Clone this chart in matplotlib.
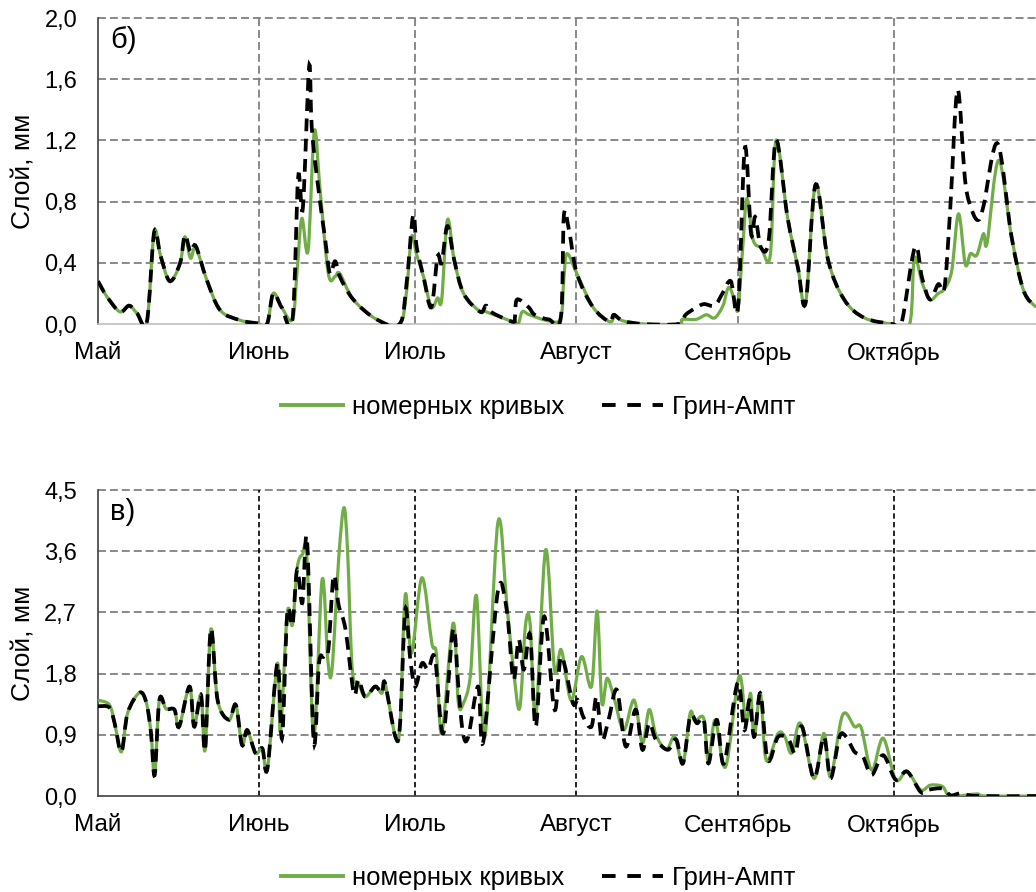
import matplotlib
matplotlib.use("Agg")
import matplotlib.pyplot as plt
from matplotlib.lines import Line2D
from matplotlib.path import Path
from matplotlib.patches import PathPatch

plt.rcParams['font.family'] = ['Liberation Sans', 'DejaVu Sans']

# ---------------- data ----------------
months = ["Май", "Июнь", "Июль", "Август", "Сентябрь", "Октябрь"]
month_start_day = [0, 31, 61, 92, 123, 153]

# panel б) (top)
b_green_day = [0, 1.7, 4.2, 6, 7.5, 9.4, 10.8, 12, 13.8, 15.8, 16.7, 17.8, 18.8, 20.9, 23.5, 27.3,
               30.6, 32.5, 33.7, 35.3, 37.4, 38.3, 39.2, 40.4, 41.6, 42.7, 44.3, 45.6, 46.5, 49.1,
               53.6, 58, 59.3, 60.3, 61.3, 62.6, 64.1, 65.3, 66.1, 67.2, 68.5, 70.3, 73.5, 74.6,
               79.7, 80.8, 81.6, 83, 86.7, 89, 89.6, 90.2, 92.1, 95.2, 98.4, 99.4, 101, 105,
               111.6, 112.4, 115, 117, 118.6, 120.2, 121.3, 122.5, 123.1, 124.0, 124.8, 126.0,
               127.5, 129.3, 130.4, 132.6, 134.6, 136.1, 138.0, 140.4, 143.5, 147.4, 152.8, 156.1,
               157.0, 158.5, 160, 161.6, 162.8, 164.2, 165.5, 166.8, 167.8, 169.0, 170.3, 171.0,
               173.2, 175.7, 178, 180.4]
b_green_val = [0.28, 0.18, 0.08, 0.12, 0.07, 0.015, 0.60, 0.45, 0.28, 0.40, 0.57, 0.43, 0.50, 0.29, 0.09, 0.025,
               0.005, 0.0, 0.20, 0.11, 0.03, 0.35, 0.69, 0.48, 1.26, 0.88, 0.33, 0.31, 0.33, 0.16,
               0.03, 0.0, 0.20, 0.57, 0.45, 0.31, 0.11, 0.17, 0.16, 0.68, 0.42, 0.20, 0.08, 0.08,
               0.015, 0.0, 0.08, 0.06, 0.02, 0.04, 0.30, 0.46, 0.33, 0.11, 0.015, 0.05, 0.02, 0.0,
               0.0, 0.03, 0.03, 0.06, 0.04, 0.12, 0.24, 0.15, 0.10, 0.50, 0.82, 0.55,
               0.50, 0.45, 1.20, 0.70, 0.37, 0.14, 0.91, 0.42, 0.16, 0.04, 0.0, 0.0,
               0.43, 0.27, 0.16, 0.20, 0.23, 0.35, 0.72, 0.39, 0.46, 0.45, 0.59, 0.53,
               1.07, 0.57, 0.22, 0.11]

b_black_day = [0, 1.7, 4.2, 6, 7.5, 9.4, 10.8, 12, 13.8, 15.8, 16.7, 17.8, 18.8, 20.9, 23.5, 27.3,
               30.6, 32.5, 33.7, 35.3, 37.4, 38.5, 39.4, 40.6, 41.1, 42.1, 43.7, 44.6, 45.6, 46.5,
               49.1, 53.6, 58, 59.3, 60.6, 61.3, 62.6, 64.1, 65.3, 66.1, 67.2, 68.5, 70.3, 73.5,
               74.6, 75.5, 79.7, 80.2, 80.6, 82.8, 84, 86.7, 89, 89.6, 90.6, 92.1, 95.2, 98.4,
               99.2, 101, 105, 111.6, 113, 114.7, 116.5, 118.6, 120.1, 121.7, 123.1, 124.4, 125.6,
               126.4, 127.5, 129.0, 130.4, 132.6, 134.6, 136.1, 138.0, 140.4, 143.5, 147.4, 152.8,
               154.5, 157.1, 158.5, 160, 161.6, 162.8, 163.9, 165.3, 166.7, 167.6, 169.1, 170.3,
               173.0, 175.7, 178, 180.4]
b_black_val = [0.28, 0.18, 0.08, 0.12, 0.07, 0.015, 0.60, 0.45, 0.28, 0.40, 0.58, 0.47, 0.51, 0.29, 0.09, 0.025,
               0.005, 0.0, 0.20, 0.11, 0.03, 0.96, 0.76, 1.68, 1.29, 0.96, 0.55, 0.33, 0.41, 0.31,
               0.16, 0.03, 0.0, 0.25, 0.71, 0.50, 0.31, 0.11, 0.44, 0.40, 0.64, 0.42, 0.20, 0.08,
               0.12, 0.08, 0.015, 0.05, 0.16, 0.11, 0.06, 0.03, 0.04, 0.71, 0.61, 0.33, 0.11, 0.015,
               0.06, 0.02, 0.0, 0.0, 0.06, 0.10, 0.13, 0.12, 0.20, 0.28, 0.11, 1.15, 0.59,
               0.70, 0.50, 0.55, 1.20, 0.70, 0.37, 0.14, 0.91, 0.42, 0.16, 0.04, 0.0,
               0.0, 0.50, 0.30, 0.16, 0.26, 0.24, 0.75, 1.53, 0.96, 0.79, 0.68, 0.77,
               1.18, 0.57, 0.22, 0.11]

# panel в) (bottom)
v_green_day = [0, 2.2, 3.2, 4.5, 5.7, 8, 9.3, 10.2, 10.9, 11.8, 13.1, 14.7, 15.6, 17.6, 18.5, 19.8,
               20.6, 21.7, 23, 25.2, 26.5, 27.7, 28.7, 30.3, 31.6, 32.6, 34.5, 35.1, 36.4, 37.4,
               38.3, 39.3, 40.2, 41.5, 43.1, 44.2, 45, 46.3, 47.3, 48.0, 48.9, 50.1, 51.4, 53.3,
               54.6, 55.2, 57.2, 58.1, 59.1, 60.3, 62.3, 64.2, 65.1, 66.1, 68.3, 69.3, 70.3, 71.6,
               72.8, 74.4, 76.9, 78.6, 79.9, 81.1, 82.2, 83.1, 84.2, 86.1, 87.8, 89.1, 91, 93,
               94.9, 96, 96.9, 97.9, 99.2, 101.1, 103.1, 104.7, 106, 107.3, 109.3, 110.9, 112.5,
               113.9, 114.8, 116.5, 117.4, 118.7, 120.7, 123.3, 124.6, 125.5, 126.2, 127.4, 128.5,
               130.8, 132.1, 133.4, 135.1, 137.7, 139.6, 140.9, 143.2, 145.5, 146.8, 148.8, 151,
               153.4, 155.6, 158.2, 160.1, 162.4, 164, 169, 170.5, 180.4]
v_green_val = [1.41, 1.34, 1.07, 0.65, 1.22, 1.52, 1.37, 0.92, 0.31, 1.41, 1.28, 1.27, 1.02, 1.61, 1.02, 1.49,
               0.68, 2.45, 1.41, 1.12, 1.34, 0.75, 0.97, 0.63, 0.70, 0.41, 1.95, 0.95, 2.69, 2.52,
               3.35, 3.55, 3.48, 0.87, 3.18, 2.0, 1.86, 3.5, 4.24, 3.6, 1.86, 1.66, 1.46, 1.61,
               1.51, 1.66, 0.87, 1.07, 2.96, 2.10, 3.21, 2.25, 2.08, 0.92, 2.54, 1.37, 1.37, 1.76,
               2.94, 0.87, 4.02, 2.84, 1.86, 1.29, 2.50, 2.54, 1.17, 3.62, 1.86, 2.15, 1.41, 2.05,
               1.61, 2.72, 1.37, 1.73, 1.46, 0.97, 1.41, 0.78, 1.27, 0.90, 0.68, 0.87, 0.48,
               1.22, 1.10, 1.14, 0.51, 1.12, 0.43, 1.76, 1.07, 1.51, 0.87, 1.51, 0.53,
               0.92, 0.87, 0.63, 1.07, 0.26, 0.92, 0.28, 1.19, 1.02, 1.00, 0.38, 0.85,
               0.24, 0.36, 0.09, 0.16, 0.14, 0.0, 0.03, 0.0, 0.0]

v_black_day = [0, 2.2, 3.2, 4.5, 5.7, 8, 9.3, 10.2, 10.9, 11.8, 13.1, 14.7, 15.6, 17.6, 18.5, 19.8,
               20.6, 21.7, 23, 25.2, 26.5, 27.7, 28.7, 30.3, 31.6, 32.6, 34.5, 35.4, 36.4, 37.4,
               38.3, 39.3, 40.2, 41.5, 42.5, 43.4, 44.3, 45.3, 46.3, 47.6, 49.2, 50.1, 51.4, 53.3,
               54.6, 55.2, 57.2, 58.1, 59.1, 60.0, 61, 62.3, 63.5, 64.8, 66.4, 68.3, 69.3, 70.2,
               71.2, 73.1, 74.1, 76.9, 78.6, 79.9, 80.9, 81.9, 83.1, 84.2, 85.8, 87.8, 89.1, 91.3,
               92.3, 93.3, 94.9, 95.9, 96.9, 98.2, 99.8, 101.5, 103.4, 104.7, 106, 107.3, 109.6,
               111.2, 112.5, 113.9, 115.2, 116.5, 117.4, 119.0, 120.4, 123.0, 124.3, 125.3, 126.2,
               127.4, 128.8, 130.8, 132.8, 134.1, 135.4, 137.7, 139.6, 140.9, 142.6, 143.9, 145.5,
               147.1, 148.8, 151, 153.4, 155.6, 158.2, 159.5, 162.4, 164, 166, 169, 180.4]
v_black_val = [1.32, 1.30, 1.07, 0.65, 1.22, 1.52, 1.37, 0.92, 0.31, 1.41, 1.28, 1.27, 1.02, 1.61, 1.02, 1.49,
               0.68, 2.45, 1.41, 1.12, 1.34, 0.75, 0.97, 0.63, 0.70, 0.41, 1.95, 0.85, 2.69, 2.52,
               3.33, 2.84, 3.77, 0.80, 1.95, 2.05, 2.15, 3.23, 2.8, 2.45, 1.51, 1.71, 1.46, 1.61,
               1.51, 1.66, 0.87, 1.07, 2.74, 2.05, 1.61, 1.95, 1.86, 2.03, 0.92, 2.45, 1.61, 0.92,
               0.87, 1.61, 0.80, 3.01, 2.74, 1.71, 2.30, 1.86, 2.37, 1.02, 2.64, 1.27, 2.05, 1.37,
               1.41, 1.17, 1.02, 1.46, 0.83, 1.12, 1.56, 0.73, 1.27, 0.68, 1.07, 0.83, 0.68,
               0.83, 0.48, 1.17, 1.07, 1.12, 0.48, 1.12, 0.48, 1.66, 0.97, 1.41, 0.87,
               1.51, 0.53, 0.87, 0.83, 0.63, 1.02, 0.26, 0.87, 0.26, 0.87, 0.87, 0.65,
               0.58, 0.31, 0.60, 0.24, 0.36, 0.06, 0.09, 0.11, 0.01, 0.04, 0.0, 0.0]

series_labels = ["номерных кривых", "Грин-Ампт"]
b_yticks = [0.0, 0.4, 0.8, 1.2, 1.6, 2.0]
v_yticks = [0.0, 0.9, 1.8, 2.7, 3.6, 4.5]

# ---------------- style ----------------
GREEN = "#70AD47"
GRID = "#808080"
W, H = 1036, 892
fig = plt.figure(figsize=(W / 100, H / 100), dpi=100)


def fmt(v):
    return f"{v:.1f}".replace(".", ",")


def smooth_line(ax, x, y, **kw):
    """Draw a spreadsheet-style smoothed line (cubic Bezier through the data points)."""
    n = len(x)
    verts = [(x[0], y[0])]
    codes = [Path.MOVETO]
    for i in range(n - 1):
        a = i - 1 if i > 0 else i
        d = i + 2 if i + 2 < n else i + 1
        c1 = (x[i] + (x[i + 1] - x[a]) / 6.0, y[i] + (y[i + 1] - y[a]) / 6.0)
        c2 = (x[i + 1] - (x[d] - x[i]) / 6.0, y[i + 1] - (y[d] - y[i]) / 6.0)
        verts += [c1, c2, (x[i + 1], y[i + 1])]
        codes += [Path.CURVE4] * 3
    patch = PathPatch(Path(verts, codes), fill=False, transform=ax.transData, **kw)
    ax.add_patch(patch)
    return patch


def make_panel(rect, gd, gv, bd, bv, yticks, label, vcolor, vstyle, vlw, bottom_color):
    ax = fig.add_axes(rect)
    ax.set_xlim(0, 180.4)
    ax.set_ylim(yticks[0], yticks[-1])
    ax.set_yticks(yticks)
    ax.set_yticklabels([fmt(t) for t in yticks], fontsize=17)
    ax.set_xticks(month_start_day)
    ax.set_xticklabels(months, fontsize=17.5)
    ax.tick_params(axis='both', length=0, colors='black')
    ax.tick_params(axis='y', pad=15)
    ax.tick_params(axis='x', pad=13)
    for t in yticks[1:]:
        ax.axhline(t, color=GRID, lw=1.3, ls=(0, (4.4, 2.2)), zorder=1, clip_on=False)
    for d in month_start_day[1:]:
        ax.axvline(d, color=vcolor, lw=vlw, ls=vstyle, zorder=1)
    smooth_line(ax, gd, gv, edgecolor=GREEN, lw=2.3, zorder=3, joinstyle='round')
    smooth_line(ax, bd, bv, edgecolor='black', lw=2.7, ls=(0, (3.4, 2.0)), zorder=4,
                capstyle='butt')
    for s in ['top', 'right']:
        ax.spines[s].set_visible(False)
    ax.spines['left'].set_color('#404040')
    ax.spines['left'].set_linewidth(1.2)
    ax.spines['bottom'].set_color(bottom_color)
    ax.spines['bottom'].set_linewidth(1.2)
    ax.set_ylabel("Слой, мм", fontsize=19, labelpad=6)
    ax.text(0.013, 0.975, label, transform=ax.transAxes, fontsize=21, va='top', ha='left')
    return ax


ax1 = make_panel([98 / W, 1 - 324 / H, (W - 98) / W, 306 / H],
                 b_green_day, b_green_val, b_black_day, b_black_val, b_yticks, "б)",
                 GRID, (0, (4.4, 2.2)), 1.3, '#BFBFBF')
ax2 = make_panel([98 / W, 1 - 796 / H, (W - 98) / W, 306 / H],
                 v_green_day, v_green_val, v_black_day, v_black_val, v_yticks, "в)",
                 'black', (0, (3.2, 2.0)), 1.2, '#404040')

handles = [Line2D([], [], color=GREEN, lw=2.8),
           Line2D([], [], color='black', lw=2.8, ls=(0, (3.5, 3.0)))]
for ycen in (1 - 407 / H, 1 - 878 / H):
    fig.legend(handles, series_labels, loc='center', bbox_to_anchor=(539 / W, ycen),
               ncol=2, frameon=False, fontsize=18.5, handlelength=2.4, columnspacing=1.45,
               handletextpad=0.35)

fig.savefig("out.png", dpi=100)
